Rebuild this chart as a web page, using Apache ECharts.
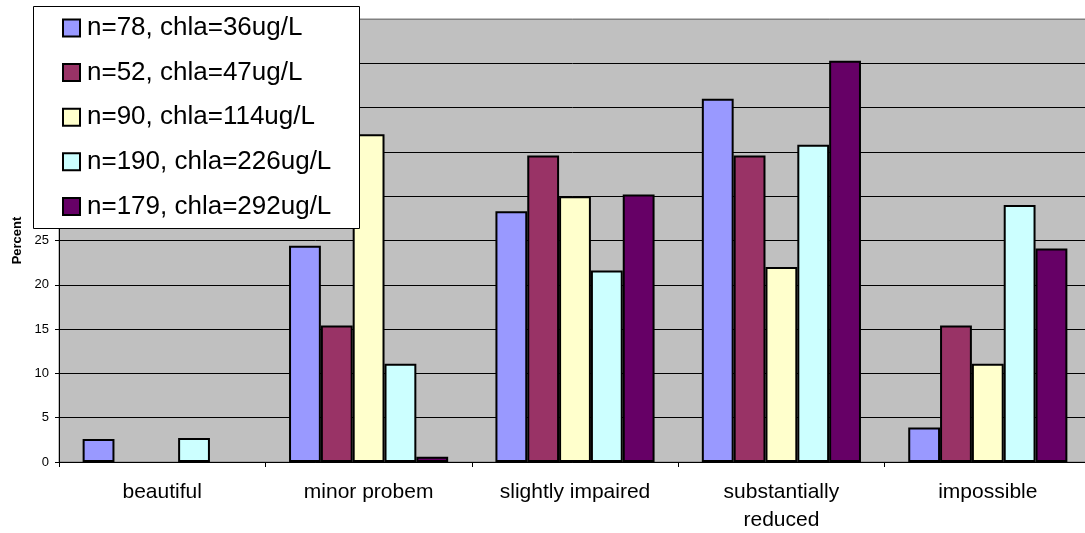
<!DOCTYPE html>
<html>
<head>
<meta charset="utf-8">
<script src="https://cdn.jsdelivr.net/npm/echarts@6/dist/echarts.min.js"></script>
<style>
  html, body { margin: 0; padding: 0; background: #ffffff; }
  #chart { width: 1085px; height: 533px; }
</style>
</head>
<body>
<div id="chart"></div>
<script>
// Survey responses by category, percent of answers per sample group
const categories = ['beautiful', 'minor probem', 'slightly impaired', 'substantially\nreduced', 'impossible'];
const seriesNames = [
  'n=78, chla=36ug/L',
  'n=52, chla=47ug/L',
  'n=90, chla=114ug/L',
  'n=190, chla=226ug/L',
  'n=179, chla=292ug/L'
];
const chla36 = [2.6, 24.4, 28.3, 41.0, 3.9];
const chla47 = [0, 15.4, 34.6, 34.6, 15.4];
const chla114 = [0, 37.0, 30.0, 22.0, 11.1];
const chla226 = [2.7, 11.1, 21.6, 35.8, 29.0];
const chla292 = [0, 0.6, 30.2, 45.3, 24.1];
const yTicks = [0, 5, 10, 15, 20, 25, 30, 35, 40, 45, 50];

const seriesValues = [chla36, chla47, chla114, chla226, chla292];
const colors = ['#9999FF', '#993366', '#FFFFCC', '#CCFFFF', '#660066'];
const FONT = '"Liberation Sans", Arial, sans-serif';

const chart = echarts.init(document.getElementById('chart'), null, { renderer: 'canvas' });

const gridLineColors = yTicks.map((t, i) => (i === yTicks.length - 1 ? '#808080' : '#000000'));

// empty cells get no outline, so nothing is drawn for them
const toBarData = vals => vals.map(v => (v === 0 ? { value: v, itemStyle: { borderWidth: 0 } } : v));

chart.setOption({
  animation: false,
  backgroundColor: '#ffffff',
  textStyle: { fontFamily: FONT },
  grid: {
    left: 59, top: 19, height: 443, width: 1032,
    outerBoundsMode: 'none',
    show: true,
    backgroundColor: '#C0C0C0',
    borderColor: '#808080',
    borderWidth: 1,
    containLabel: false
  },
  xAxis: {
    type: 'category',
    data: categories,
    axisLine: { show: true, lineStyle: { color: '#000', width: 1 } },
    axisTick: { show: true, alignWithLabel: false, length: 5, lineStyle: { color: '#000' } },
    axisLabel: {
      color: '#000', fontFamily: FONT, fontSize: 21, lineHeight: 28,
      margin: 16, interval: 0
    },
    splitLine: { show: false }
  },
  yAxis: {
    type: 'value',
    min: yTicks[0], max: yTicks[yTicks.length - 1], interval: 5,
    name: 'Percent',
    nameLocation: 'middle',
    nameRotate: 90,
    nameGap: 31,
    nameTextStyle: { color: '#000', fontFamily: FONT, fontSize: 13, fontWeight: 'bold' },
    axisLine: { show: true, lineStyle: { color: '#000', width: 1 } },
    axisTick: { show: true, length: 4, lineStyle: { color: '#000' } },
    axisLabel: { color: '#000', fontFamily: FONT, fontSize: 13, margin: 10 },
    splitLine: { show: true, lineStyle: { color: gridLineColors, width: 1 } }
  },
  legend: {
    orient: 'vertical',
    left: 62, top: 14,
    padding: 0,
    itemWidth: 17, itemHeight: 17,
    itemGap: 16.6,
    icon: 'rect',
    z: 5,
    itemStyle: { borderColor: '#000', borderWidth: 2 },
    textStyle: { color: '#000', fontFamily: FONT, fontSize: 26, lineHeight: 28, padding: [0, 0, 0, 2] },
    data: seriesNames
  },
  graphic: [{
    type: 'rect',
    z: 3,
    shape: { x: 33.5, y: 6.5, width: 326, height: 222 },
    style: { fill: '#ffffff', stroke: '#000000', lineWidth: 1 }
  }],
  series: seriesValues.map((vals, i) => ({
    name: seriesNames[i],
    type: 'bar',
    data: toBarData(vals),
    barGap: '0%',
    barCategoryGap: '22.9%',
    itemStyle: { color: colors[i], borderColor: '#000', borderWidth: 2 },
    emphasis: { disabled: true }
  }))
});
</script>
</body>
</html>
